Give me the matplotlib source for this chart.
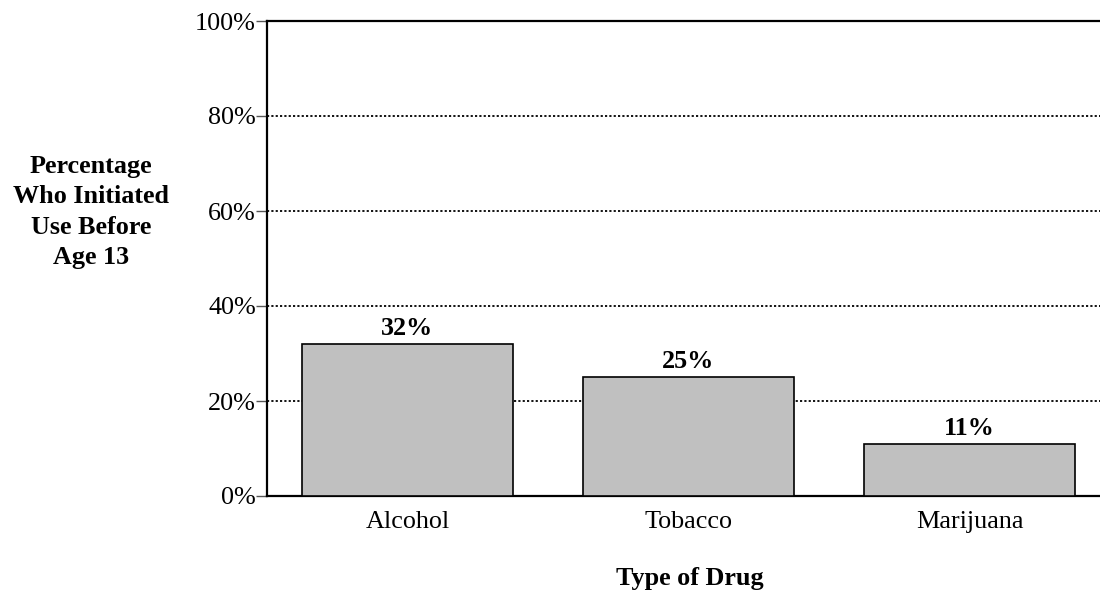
import matplotlib
matplotlib.use("Agg")
import matplotlib.pyplot as plt
from matplotlib.ticker import FuncFormatter

categories = ["Alcohol", "Tobacco", "Marijuana"]
values = [32, 25, 11]
y_ticks = [0, 20, 40, 60, 80, 100]

plt.rcParams["font.family"] = ["Liberation Serif", "DejaVu Serif"]
FS = 18.8

fig = plt.figure(figsize=(11, 5.93), dpi=100)
ax = fig.add_axes([267 / 1100, 97 / 593, 843 / 1100, 475 / 593])

x = list(range(len(categories)))
bars = ax.bar(x, values, width=0.75, color="#c0c0c0", edgecolor="black",
              linewidth=1.2, zorder=3)

for xi, v in zip(x, values):
    ax.annotate(f"{v}%", (xi, v), xytext=(0, 3), textcoords="offset points",
                ha="center", va="bottom", fontsize=FS, fontweight="bold")

ax.set_xlim(-0.5, 2.5)
ax.set_ylim(0, 100)
ax.set_yticks(y_ticks)
ax.yaxis.set_major_formatter(FuncFormatter(lambda v, p: f"{int(v)}%"))
ax.set_xticks(x)
ax.set_xticklabels(categories)

ax.tick_params(axis="y", direction="out", length=8, width=1, color="#555555",
               pad=0, labelsize=FS)
ax.tick_params(axis="x", length=0, pad=11, labelsize=FS)

for yv in y_ticks[1:-1]:
    ax.axhline(yv, color="black", linestyle=(0, (1.2, 1.2)), linewidth=1.3,
               zorder=1)

ax.spines["right"].set_visible(False)
for s in ("left", "top", "bottom"):
    ax.spines[s].set_linewidth(1.6)
    ax.spines[s].set_color("black")

fig.text(91 / 1100, 1 - 212 / 593,
         "Percentage\nWho Initiated\nUse Before\nAge 13",
         ha="center", va="center", fontsize=FS, fontweight="bold",
         linespacing=1.4)
fig.text(690 / 1100, 1 - 578 / 593, "Type of Drug", ha="center",
         va="center", fontsize=FS, fontweight="bold")

fig.savefig("out.png", dpi=100)
